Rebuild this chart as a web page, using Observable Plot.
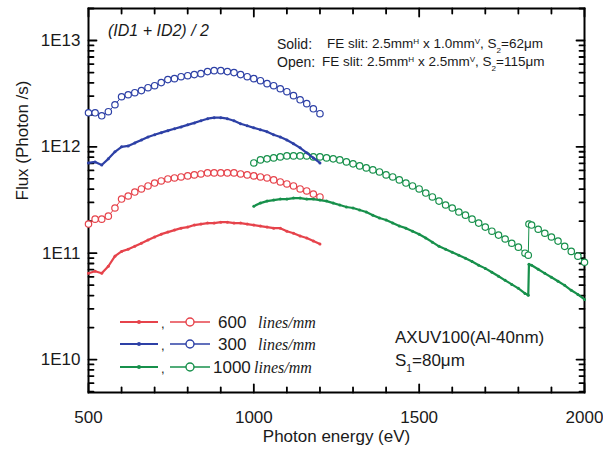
<!DOCTYPE html>
<html><head><meta charset="utf-8">
<script src="https://cdn.jsdelivr.net/npm/d3@7"></script>
<script src="https://cdn.jsdelivr.net/npm/@observablehq/plot@0.6"></script>
<style>body{margin:0;background:#fff} #chart{width:603px;height:450px}</style>
</head><body><div id="chart"></div>
<script>
// ---- data ----
const energyLow = [500,520,540,560,580,600,620,640,660,680,700,720,740,760,780,800,820,840,860,880,900,920,940,960,980,1000,1020,1040,1060,1080,1100,1120,1140,1160,1180,1200];
const energyHigh = [1000,1020,1040,1060,1080,1100,1120,1140,1160,1180,1200,1220,1240,1260,1280,1300,1320,1340,1360,1380,1400,1420,1440,1460,1480,1500,1520,1540,1560,1580,1600,1620,1640,1660,1680,1700,1720,1740,1760,1780,1800,1820,1830,1832,1840,1860,1880,1900,1920,1940,1960,1980,2000];

const flux300Open = [2.09e12,2.09e12,1.96e12,2.14e12,2.49e12,2.96e12,3.09e12,3.23e12,3.38e12,3.60e12,3.76e12,4.02e12,4.29e12,4.38e12,4.57e12,4.67e12,4.78e12,4.88e12,5.10e12,5.21e12,5.21e12,5.10e12,4.99e12,4.78e12,4.57e12,4.38e12,4.19e12,3.93e12,3.76e12,3.52e12,3.30e12,3.03e12,2.77e12,2.55e12,2.28e12,2.05e12];
const flux300Solid = [7.06e11,7.22e11,6.76e11,7.71e11,8.98e11,1.00e12,1.02e12,1.09e12,1.16e12,1.24e12,1.30e12,1.36e12,1.42e12,1.48e12,1.54e12,1.61e12,1.68e12,1.76e12,1.84e12,1.88e12,1.88e12,1.84e12,1.76e12,1.65e12,1.58e12,1.51e12,1.45e12,1.39e12,1.30e12,1.24e12,1.16e12,1.07e12,9.79e11,8.78e11,7.87e11,7.06e11];
const flux600Open = [1.88e11,2.09e11,2.09e11,2.23e11,2.66e11,3.23e11,3.45e11,3.76e11,4.02e11,4.29e11,4.57e11,4.78e11,4.99e11,5.10e11,5.21e11,5.33e11,5.45e11,5.56e11,5.69e11,5.69e11,5.69e11,5.69e11,5.69e11,5.56e11,5.45e11,5.33e11,5.21e11,5.10e11,4.89e11,4.68e11,4.48e11,4.29e11,4.02e11,3.85e11,3.60e11,3.38e11];
const flux600Solid = [6.47e10,6.76e10,6.47e10,7.54e10,9.38e10,1.04e11,1.09e11,1.16e11,1.24e11,1.33e11,1.42e11,1.51e11,1.58e11,1.65e11,1.72e11,1.76e11,1.84e11,1.88e11,1.92e11,1.92e11,1.96e11,1.96e11,1.92e11,1.92e11,1.88e11,1.84e11,1.80e11,1.76e11,1.72e11,1.72e11,1.61e11,1.54e11,1.45e11,1.39e11,1.30e11,1.22e11];
const flux1000Open = [7.06e11,7.54e11,7.71e11,7.87e11,8.05e11,8.22e11,8.22e11,8.22e11,8.22e11,8.05e11,8.05e11,7.87e11,7.71e11,7.54e11,7.22e11,6.92e11,6.62e11,6.34e11,6.07e11,5.81e11,5.45e11,5.21e11,4.89e11,4.57e11,4.29e11,4.02e11,3.68e11,3.38e11,3.09e11,2.84e11,2.66e11,2.44e11,2.28e11,2.09e11,1.92e11,1.76e11,1.61e11,1.48e11,1.36e11,1.24e11,1.14e11,1.00e11,9.58e10,1.88e11,1.84e11,1.68e11,1.54e11,1.42e11,1.30e11,1.16e11,1.04e11,9.38e10,8.22e10];
const flux1000Solid = [2.77e11,2.96e11,3.09e11,3.16e11,3.23e11,3.23e11,3.30e11,3.30e11,3.23e11,3.23e11,3.16e11,3.09e11,2.96e11,2.84e11,2.72e11,2.66e11,2.55e11,2.44e11,2.28e11,2.14e11,2.05e11,1.92e11,1.80e11,1.72e11,1.61e11,1.51e11,1.39e11,1.27e11,1.16e11,1.09e11,1.02e11,9.58e10,8.98e10,8.36e10,7.71e10,7.20e10,6.62e10,6.07e10,5.56e10,5.09e10,4.67e10,4.19e10,4.02e10,7.87e10,7.71e10,7.06e10,6.47e10,5.94e10,5.45e10,4.99e10,4.48e10,4.10e10,3.68e10];

const gratings = ["600", "300", "1000"];
const xTicks = [500, 1000, 1500, 2000];
const yTicks = [1e10, 1e11, 1e12, 1e13];
const yTickLabels = ["1E10", "1E11", "1E12", "1E13"];

// ---- styling ----
const colors = {"600": "#e6434b", "300": "#2d40a6", "1000": "#17904b"};
const font = "'Liberation Sans', Arial, sans-serif";
const W = 603, H = 450, ML = 88, MR = 19, MT = 8, MB = 58;

const series = [
  {grating: "600", kind: "solid", energy: energyLow, flux: flux600Solid},
  {grating: "600", kind: "open", energy: energyLow, flux: flux600Open},
  {grating: "300", kind: "solid", energy: energyLow, flux: flux300Solid},
  {grating: "300", kind: "open", energy: energyLow, flux: flux300Open},
  {grating: "1000", kind: "solid", energy: energyHigh, flux: flux1000Solid},
  {grating: "1000", kind: "open", energy: energyHigh, flux: flux1000Open}
];
const rows = series.flatMap(s => s.energy.map((e, i) => ({energy: e, flux: s.flux[i], grating: s.grating, kind: s.kind, key: s.grating + "-" + s.kind})));
const solidRows = rows.filter(d => d.kind === "solid");
const openRows = rows.filter(d => d.kind === "open");

const xMinor = d3.range(500, 2001, 100).filter(v => !xTicks.includes(v));
const yMinor = [];
for (let p = 9; p <= 13; p++) for (let m = 2; m <= 9; m++) { const v = m * Math.pow(10, p); if (v >= 4.9e9 && v <= 2e13) yMinor.push(v); }

// inward tick marks: Plot vectors with a plain straight-line shape, anchored to the frame edges
const stick = {draw(context, l) { context.moveTo(0, 0); context.lineTo(0, -l); }};
const tk = {stroke: "#000", strokeWidth: 1.8, anchor: "start", shape: stick};
function xTickMarks(vals, len) {
  return [
    Plot.vector(vals, {...tk, x: d => d, frameAnchor: "bottom", length: len, rotate: 0}),
    Plot.vector(vals, {...tk, x: d => d, frameAnchor: "top", length: len, rotate: 180})
  ];
}
function yTickMarks(vals, len) {
  return [
    Plot.vector(vals, {...tk, y: d => d, frameAnchor: "left", length: len, rotate: 90}),
    Plot.vector(vals, {...tk, y: d => d, frameAnchor: "right", length: len, rotate: -90})
  ];
}

const chart = Plot.plot({
  width: W, height: H,
  marginLeft: ML, marginRight: MR, marginTop: MT, marginBottom: MB,
  x: {domain: [500, 2000]},
  y: {type: "log", domain: [4.9e9, 2e13]},
  color: {domain: gratings, range: gratings.map(g => colors[g])},
  style: {fontFamily: font, fontSize: "17px", color: "#1a1a1a", background: "#fff"},
  marks: [
    Plot.axisX({ticks: xTicks, tickSize: 0, tickPadding: 18, tickFormat: d => String(d), label: null}),
    Plot.axisY({ticks: yTicks, tickSize: 0, tickPadding: 8, tickFormat: d => yTickLabels[yTicks.indexOf(d)], label: null}),
    Plot.frame({stroke: "#000", fill: "none", strokeWidth: 2}),
    ...xTickMarks(xTicks, 8), ...xTickMarks(xMinor, 5),
    ...yTickMarks(yTicks, 8), ...yTickMarks(yMinor, 5),
    Plot.line(openRows, {x: "energy", y: "flux", z: "key", stroke: "grating", strokeWidth: 1}),
    Plot.dot(openRows, {x: "energy", y: "flux", stroke: "grating", fill: "#fff", r: 3.2, strokeWidth: 1.2}),
    Plot.line(solidRows, {x: "energy", y: "flux", z: "key", stroke: "grating", strokeWidth: 2.2}),
    Plot.dot(solidRows, {x: "energy", y: "flux", fill: "grating", r: 1.5}),
    Plot.text(["Photon energy (eV)"], {frameAnchor: "bottom", dy: 49, text: d => d, fontSize: 17}),
    Plot.text(["Flux (Photon /s)"], {frameAnchor: "left", dx: -66, rotate: -90, text: d => d, fontSize: 17})
  ]
});
document.getElementById("chart").appendChild(chart);

// ---- annotations and legend ----
const svg = d3.select(chart);
const g = svg.append("g").attr("font-family", font).attr("fill", "#1a1a1a").attr("text-anchor", "start");

function rich(x, y, size, parts, extra = {}) {
  const t = g.append("text").attr("x", x).attr("y", y).attr("font-size", size).attr("text-anchor", "start");
  for (const k in extra) t.attr(k, extra[k]);
  for (const p of parts) {
    const s = t.append("tspan").text(p.t);
    if (p.sup) s.attr("baseline-shift", "super").attr("font-size", size * 0.6);
    if (p.sub) s.attr("baseline-shift", "sub").attr("font-size", size * 0.6);
  }
  return t;
}

rich(108, 36, 16, [{t: "(ID1 + ID2) / 2"}], {"font-style": "italic"});
rich(277, 49, 14, [{t: "Solid:"}]);
rich(327, 48, 13.5, [{t: "FE slit: 2.5mm"}, {t: "H", sup: true}, {t: " x 1.0mm"}, {t: "V", sup: true}, {t: ", S"}, {t: "2", sub: true}, {t: "=62\u03bcm"}]);
rich(277, 67, 14, [{t: "Open:"}]);
rich(322, 66, 13.5, [{t: "FE slit: 2.5mm"}, {t: "H", sup: true}, {t: " x 2.5mm"}, {t: "V", sup: true}, {t: ", S"}, {t: "2", sub: true}, {t: "=115\u03bcm"}]);
rich(395, 343, 17, [{t: "AXUV100(Al-40nm)"}]);
rich(395, 366, 17, [{t: "S"}, {t: "1", sub: true}, {t: "=80\u03bcm"}]);

const legendRows = [{g: "600", y: 322, x: 218, lx: 258}, {g: "300", y: 344, x: 218, lx: 258}, {g: "1000", y: 367, x: 213, lx: 254}];
for (const r of legendRows) {
  const c = colors[r.g];
  g.append("line").attr("x1", 120).attr("x2", 158).attr("y1", r.y).attr("y2", r.y).attr("stroke", c).attr("stroke-width", 2.2);
  g.append("circle").attr("cx", 139).attr("cy", r.y).attr("r", 2).attr("fill", c);
  g.append("text").attr("x", 161).attr("y", r.y + 6).attr("font-size", 13).text(",");
  g.append("line").attr("x1", 170).attr("x2", 210).attr("y1", r.y).attr("y2", r.y).attr("stroke", c).attr("stroke-width", 1.5);
  g.append("circle").attr("cx", 190).attr("cy", r.y).attr("r", 4).attr("fill", "#fff").attr("stroke", c).attr("stroke-width", 1.4);
  rich(r.x, r.y + 6, 17, [{t: r.g}]);
  rich(r.lx, r.y + 6, 16, [{t: "lines/mm"}], {"font-style": "italic", "font-family": "'Liberation Serif', 'Times New Roman', serif"});
}
</script>
</body></html>
